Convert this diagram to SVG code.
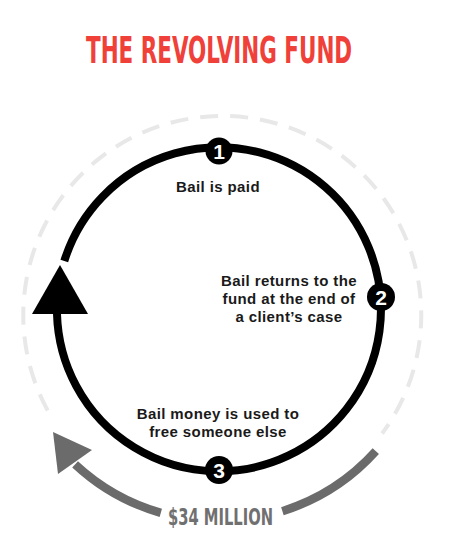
<svg xmlns="http://www.w3.org/2000/svg" width="465" height="540" viewBox="0 0 465 540">
<style>
.title{font-family:"DejaVu Sans Condensed","DejaVu Sans","Liberation Sans",sans-serif;font-weight:bold;fill:#f0403a;font-size:38px}
.money{font-family:"DejaVu Sans Condensed","DejaVu Sans","Liberation Sans",sans-serif;font-weight:bold;fill:#707070;font-size:23px}
.lbl{font-family:"Liberation Sans",Arial,sans-serif;font-weight:bold;fill:#1a1a1a;font-size:15px;letter-spacing:0.4px;text-anchor:middle}
.num{font-family:"Liberation Sans",Arial,sans-serif;font-weight:bold;fill:#ffffff;font-size:21px;text-anchor:middle}
.node circle{fill:#000000}
.ring{fill:none;stroke:#000000;stroke-width:8}
.dash{fill:none;stroke:#e8e8e8;stroke-width:4;stroke-dasharray:18 12}
.gray{fill:none;stroke:#6b6b6b;stroke-width:8.5}
</style>
<rect width="465" height="540" fill="#ffffff"/>
<text class="title" transform="translate(86,63) scale(0.619,1)" x="0" y="0" textLength="430" lengthAdjust="spacingAndGlyphs">THE REVOLVING FUND</text>
<g id="connectors">
  <path class="dash" d="M 47.7 410.5 A 199 199 0 1 1 382.1 433.5"/>
  <path class="ring" d="M 64.3 261 A 162 162 0 1 1 57 314"/>
  <polygon points="60,265 32,314 88,314" fill="#000000"/>
  <path class="gray" d="M 375.8 451.2 A 211 211 0 0 1 282.4 511.2"/>
  <path class="gray" d="M 160.8 512.8 A 211 211 0 0 1 75.1 464.3"/>
  <polygon points="53,432 92,450 58,474" fill="#6b6b6b"/>
</g>
<text class="money" transform="translate(168,525) scale(0.75,1)" x="0" y="0" textLength="140" lengthAdjust="spacingAndGlyphs">$34 MILLION</text>
<g id="node1" class="node">
  <circle cx="219" cy="151" r="13.5"/>
  <text class="num" x="219" y="158.5">1</text>
  <text class="lbl" x="218" y="191.5">Bail is paid</text>
</g>
<g id="node2" class="node">
  <circle cx="381" cy="297" r="14"/>
  <text class="num" x="381" y="304.5">2</text>
  <text class="lbl" x="289" y="285.5">Bail returns to the</text>
  <text class="lbl" x="289" y="303.5">fund at the end of</text>
  <text class="lbl" x="289" y="321.5">a client’s case</text>
</g>
<g id="node3" class="node">
  <circle cx="219" cy="470" r="14"/>
  <text class="num" x="219" y="477.5">3</text>
  <text class="lbl" x="218" y="419">Bail money is used to</text>
  <text class="lbl" x="218" y="437">free someone else</text>
</g>
</svg>
